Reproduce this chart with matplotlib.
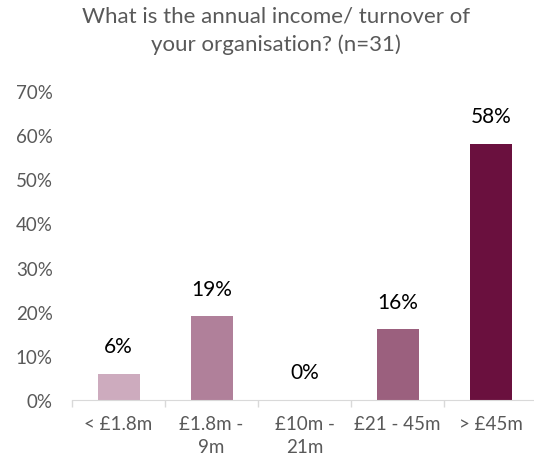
import numpy as np
import matplotlib as mpl
mpl.use("Agg")
import matplotlib.pyplot as plt

mpl.rcParams.update({
    "font.family": ["Lato", "DejaVu Sans"],
    "text.color": "#595959",
    "xtick.color": "#595959",
    "ytick.color": "#595959",
})

categories = ["< £1.8m", "£1.8m -\n9m", "£10m -\n21m", "£21 - 45m", "> £45m"]
values = [6, 19, 0, 16, 58]
colors = ["#CDABBE", "#B0809A", "#B0809A", "#9B607E", "#6A103E"]

fig = plt.figure(figsize=(5.34, 4.6), dpi=100)
ax = fig.add_axes([0.135, 0.128, 0.871, 0.672])

x = np.arange(len(categories))
bars = ax.bar(x, values, width=0.45, color=colors)

for xi, v in zip(x, values):
    ax.text(xi, v + 4, f"{v}%", ha="center", va="bottom", fontsize=15, color="black")

ax.set_xlim(-0.5, len(categories) - 0.5)
ax.set_ylim(0, 70)
ax.set_yticks(range(0, 71, 10))
ax.set_yticklabels([f"{t}%" for t in range(0, 71, 10)], fontsize=13.5)
ax.set_xticks(x)
ax.set_xticklabels(categories, fontsize=13.5, linespacing=1.4, va="top")
ax.tick_params(axis="x", length=0, pad=11)
ax.tick_params(axis="y", length=0, pad=14)

# category separators below the axis line
ax.set_xticks(np.arange(-0.5, len(categories), 1.0), minor=True)
ax.tick_params(axis="x", which="minor", length=5, color="#D9D9D9", width=1)

for side in ["top", "right", "left"]:
    ax.spines[side].set_visible(False)
ax.spines["bottom"].set_color("#D9D9D9")

fig.text(0.517, 0.985, "What is the annual income/ turnover of\nyour organisation? (n=31)",
         ha="center", va="top", fontsize=16, linespacing=1.45)

fig.savefig("out.png", dpi=100)
